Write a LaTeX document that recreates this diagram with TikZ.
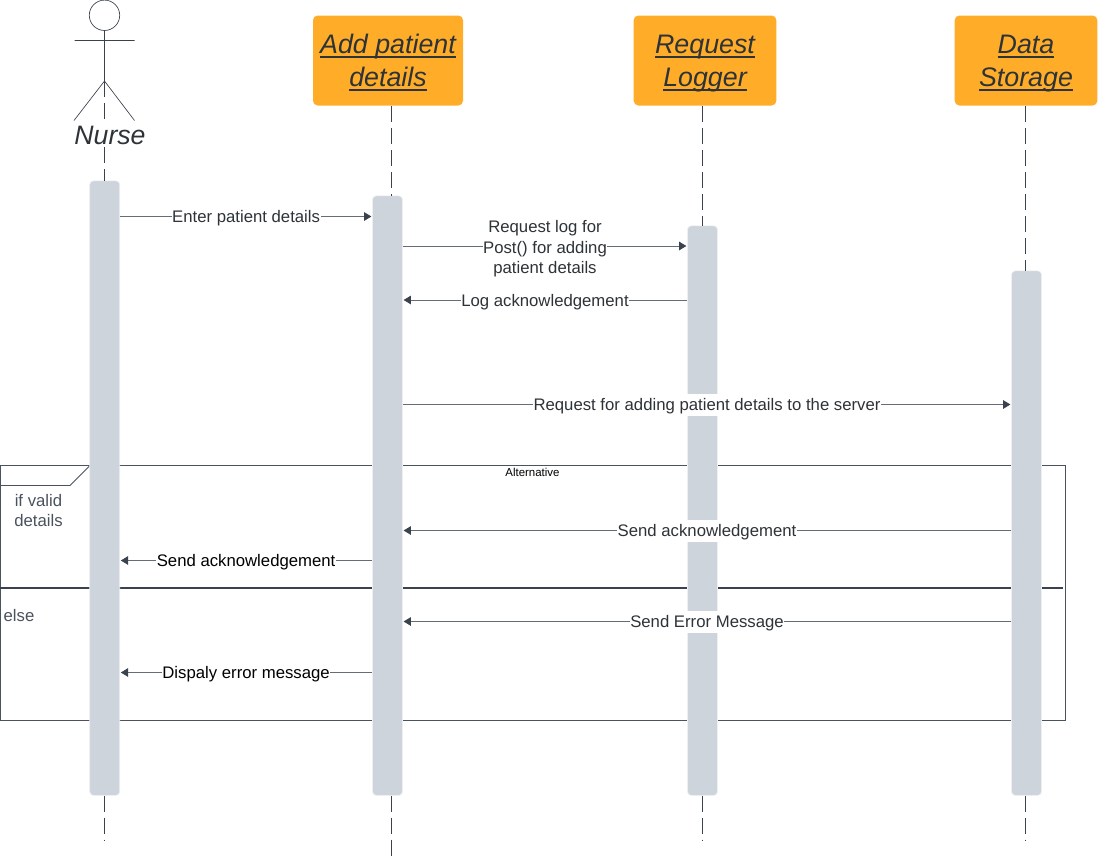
\documentclass[tikz,border=0pt]{standalone}
\usepackage{fontspec}
\setmainfont{Liberation Sans}
\usetikzlibrary{arrows.meta}
\definecolor{barc}{HTML}{CED4DB}
\definecolor{barb}{HTML}{EDEFF2}
\definecolor{inkc}{HTML}{3A424E}
\definecolor{framec}{HTML}{4A525E}
\definecolor{orangec}{HTML}{FFAD29}
\definecolor{txtc}{HTML}{2E3338}
\newsavebox{\ulbox}
\newcommand{\ulx}[1]{\sbox{\ulbox}{#1}\leavevmode\rule[-10pt]{0pt}{20pt}\smash{\raisebox{-7.2pt}{\rlap{\rule[-3pt]{\wd\ulbox}{0.95pt}}\usebox{\ulbox}}}}
\tikzset{x=0.75pt,y=-0.75pt,
 lifeline/.style={draw=inkc,line width=0.6pt,dash pattern=on 12pt off 4.5pt},
 bar/.style={fill=barc,draw=barb,line width=0.5pt,rounded corners=2.8pt,minimum width=22.5pt,inner sep=0pt,anchor=north},
 headbox/.style={fill=orangec,draw=none,rounded corners=3.5pt,minimum height=67.5pt,align=center,
   font=\fontsize{20.1}{24.75}\selectfont\itshape,text=txtc,inner sep=0pt},
 msg/.style={draw=framec!85,line width=0.6pt,-{Triangle[length=5.5pt,width=6.5pt,color=inkc,fill=inkc]},shorten >=0.6pt},
 lbl/.style={fill=white,inner xsep=0.4pt,inner ysep=1.9pt,text height=11.2pt,text depth=1.5pt,font=\fontsize{12.55}{15.4}\selectfont,text=txtc},
 lblmulti/.style={fill=white,inner xsep=0.4pt,inner ysep=0.5pt,yshift=-2.3pt,align=center,font=\fontsize{12.55}{15.4}\selectfont,text=txtc},
 frameline/.style={draw=framec,line width=0.65pt}}
\begin{document}
\begin{tikzpicture}
\useasboundingbox (0,0) rectangle (1098,857);
% frame
\draw[frameline] (0.5,465.5) -- (1065.5,465.5) -- (1065.5,720.5) -- (0.5,720.5) -- cycle;
\draw[frameline] (0.5,485.5) -- (70,485.5) -- (90,465.5);
\draw[draw=inkc,line width=1.1pt] (0,588) -- (1063,588);
\node[font=\fontsize{8.6}{10}\selectfont,text=black,inner sep=0pt] (alt) at (532.5,472.5) {Alternative};
\node[font=\fontsize{12.55}{15.6}\selectfont,text=framec,align=center,inner sep=0pt] (ifv) at (38.5,510.5) {if valid\\details};
\node[font=\fontsize{12.55}{15.6}\selectfont,text=framec,inner sep=0pt] (els) at (19,615.5) {else};
% heads
\node[headbox,minimum width=112.5pt] (h1) at (388,60.5) {\ulx{Add patient}\\\ulx{details}};
\node[headbox,minimum width=107pt] (h2) at (705,60.5) {\ulx{Request}\\\ulx{Logger}};
\node[headbox,minimum width=107pt] (h3) at (1026,60.5) {\ulx{Data}\\\ulx{Storage}};
% activation bars
\node[bar,minimum height=460.9pt] (b1) at (104.7,180.5) {};
\node[bar,minimum height=449.65pt] (b2) at (387.5,195.5) {};
\node[bar,minimum height=427.15pt] (b3) at (702.5,225.5) {};
\node[bar,minimum height=393.4pt] (b4) at (1026.5,270.5) {};
% lifeline positions and free ends
\coordinate (ll1) at (104.5,0);
\coordinate (ll2) at (391,0);
\coordinate (ll3) at (702.5,0);
\coordinate (ll4) at (1025,0);
\coordinate (hip) at (104.5,81);
\coordinate (e1) at (104.5,841);
\coordinate (e2) at (391,856);
\coordinate (e3) at (702.5,841);
\coordinate (e4) at (1025,841);
% lifelines
\draw[lifeline] (hip) -- (ll1 |- b1.north);
\draw[lifeline] (ll1 |- b1.south) -- (e1);
\draw[lifeline] (ll2 |- h1.south) -- (ll2 |- b2.north);
\draw[lifeline] (ll2 |- b2.south) -- (e2);
\draw[lifeline] (ll3 |- h2.south) -- (ll3 |- b3.north);
\draw[lifeline] (ll3 |- b3.south) -- (e3);
\draw[lifeline] (ll4 |- h3.south) -- (ll4 |- b4.north);
\draw[lifeline] (ll4 |- b4.south) -- (e4);
% stick figure
\node[circle,draw=inkc,line width=0.5pt,fill=white,minimum size=22.8pt,inner sep=0pt] (head) at (104.5,15.3) {};
\coordinate (armL) at (74.5,40.5);
\coordinate (armR) at (134.5,40.5);
\coordinate (legL) at (74,120.5);
\coordinate (legR) at (134.5,120.5);
\draw[draw=inkc,line width=0.5pt] (head) -- (hip) (armL) -- (armR) (legL) -- (hip) -- (legR);
\node[font=\fontsize{20}{24}\selectfont\itshape,text=txtc,fill=white,inner sep=1pt] (nurse) at (110,135.5) {Nurse};
% message rows
\coordinate (m1) at (0,216.5);
\coordinate (m2) at (0,246);
\coordinate (m3) at (0,300);
\coordinate (m4) at (0,404.5);
\coordinate (m5) at (0,530.5);
\coordinate (m6) at (0,560.5);
\coordinate (m7) at (0,621.5);
\coordinate (m8) at (0,672.5);
% messages
\draw[msg] (b1.east |- m1) -- node[lbl]{Enter patient details} (b2.west |- m1);
\draw[msg] (b2.east |- m2) -- node[lblmulti]{Request log for\\Post() for adding\\patient details} (b3.west |- m2);
\draw[msg] (b3.west |- m3) -- node[lbl]{Log acknowledgement} (b2.east |- m3);
\draw[msg] (b2.east |- m4) -- node[lbl]{Request for adding patient details to the server} (b4.west |- m4);
\draw[msg] (b4.west |- m5) -- node[lbl]{Send acknowledgement} (b2.east |- m5);
\draw[msg] (b2.west |- m6) -- node[lbl,text=black]{Send acknowledgement} (b1.east |- m6);
\draw[msg] (b4.west |- m7) -- node[lbl]{Send Error Message} (b2.east |- m7);
\draw[msg] (b2.west |- m8) -- node[lbl,text=black]{Dispaly error message} (b1.east |- m8);
\end{tikzpicture}
\end{document}
